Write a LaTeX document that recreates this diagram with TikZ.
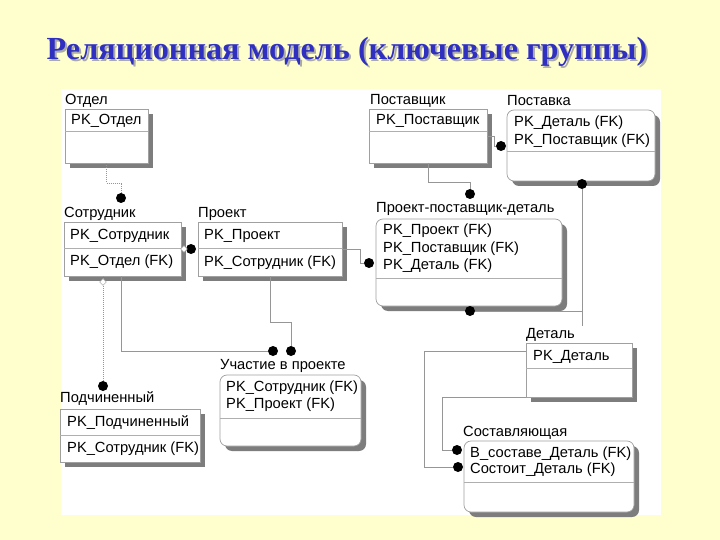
\documentclass[tikz,border=0pt]{standalone}
\usepackage{fontspec}
\setmainfont{Liberation Sans}
\newfontfamily\titlefont{Liberation Serif}
\usetikzlibrary{shadows,shapes.geometric,calc}
\definecolor{bgy}{RGB}{255,255,206}
\definecolor{titc}{RGB}{48,48,192}
\definecolor{tsh}{RGB}{170,170,170}
\definecolor{boxc}{RGB}{160,160,160}
\definecolor{sepc}{RGB}{175,175,175}
\definecolor{shc}{RGB}{125,125,125}
\definecolor{relc}{RGB}{150,150,150}
\newcommand{\ttltext}{Реляционная модель (ключевые группы)}
\begin{document}
\begin{tikzpicture}[x=1pt,y=-1pt,
  ent/.style={draw=boxc, fill=white, line width=0.7pt, inner sep=0pt, outer sep=0pt, anchor=north west,
    drop shadow={shadow xshift=5pt, shadow yshift=-5pt, fill=shc, opacity=1}},
  rent/.style={ent, rounded corners=7pt},
  lbl/.style={font=\fontsize{14.7}{17}\selectfont, anchor=base west, inner sep=0pt},
  sepl/.style={draw=sepc, line width=0.7pt},
  rel/.style={draw=relc, line width=0.8pt},
  dotrel/.style={rel, dash pattern=on 1pt off 1pt},
  blob/.style={circle, fill=black, minimum size=10pt, inner sep=0pt},
  dmd/.style={diamond, draw=relc, fill=white, minimum size=7pt, inner sep=0pt},
  ttl/.style={font=\titlefont\bfseries\fontsize{32.2}{38}\selectfont, anchor=base, inner sep=0pt}
]
\useasboundingbox (0,0) rectangle (720,540);
\fill[bgy] (0,0) rectangle (720,540);
\fill[white] (61,89) rectangle (661,515);

% title with its shadow
\node[ttl] (title) at (347,60) {\rlap{\raisebox{-2pt}{\hspace{2pt}\textcolor{tsh}{\ttltext}}}\textcolor{titc}{\ttltext}};

% entities
\node[ent, minimum width=83pt, minimum height=54pt] (otdel) at (65,109) {};
\draw[sepl] (otdel.west |- 0,131) -- (otdel.east |- 0,131);
\node[lbl] (otdelL) at (65,105) {Отдел};
\node[lbl] (otdelA) at (71,125) {PK\_Отдел};

\node[ent, minimum width=117pt, minimum height=54pt] (sotr) at (64,222) {};
\draw[sepl] (sotr.west |- 0,248) -- (sotr.east |- 0,248);
\node[lbl] (sotrL) at (64,218) {Сотрудник};
\node[lbl] (sotrA) at (70,240) {PK\_Сотрудник};
\node[lbl] (sotrB) at (70,265) {PK\_Отдел (FK)};

\node[ent, minimum width=144pt, minimum height=54pt] (proekt) at (198,222) {};
\draw[sepl] (proekt.west |- 0,248) -- (proekt.east |- 0,248);
\node[lbl] (proektL) at (198,218) {Проект};
\node[lbl] (proektA) at (204,240) {PK\_Проект};
\node[lbl] (proektB) at (204,266) {PK\_Сотрудник (FK)};

\node[ent, minimum width=118pt, minimum height=54pt] (pst) at (369,109) {};
\draw[sepl] (pst.west |- 0,131) -- (pst.east |- 0,131);
\node[lbl] (pstL) at (370,105) {Поставщик};
\node[lbl] (pstA) at (376,125) {PK\_Поставщик};

\node[rent, minimum width=148pt, minimum height=71pt] (postavka) at (507,110) {};
\draw[sepl] (postavka.west |- 0,151) -- (postavka.east |- 0,151);
\node[lbl] (postavkaL) at (507,106) {Поставка};
\node[lbl] (postavkaA) at (514,127) {PK\_Деталь (FK)};
\node[lbl] (postavkaB) at (514,145) {PK\_Поставщик (FK)};

\node[rent, minimum width=186pt, minimum height=87pt] (ppd) at (376,219) {};
\draw[sepl] (ppd.west |- 0,278) -- (ppd.east |- 0,278);
\node[lbl] (ppdL) at (376,213) {Проект-поставщик-деталь};
\node[lbl] (ppdA) at (383,235) {PK\_Проект (FK)};
\node[lbl] (ppdB) at (383,252) {PK\_Поставщик (FK)};
\node[lbl] (ppdC) at (383,269) {PK\_Деталь (FK)};

\node[ent, minimum width=106pt, minimum height=54pt] (detal) at (526,343) {};
\draw[sepl] (detal.west |- 0,368) -- (detal.east |- 0,368);
\node[lbl] (detalL) at (526,338) {Деталь};
\node[lbl] (detalA) at (533,360) {PK\_Деталь};

\node[rent, minimum width=170pt, minimum height=71pt] (sost) at (464,441) {};
\draw[sepl] (sost.west |- 0,482) -- (sost.east |- 0,482);
\node[lbl] (sostL) at (463,436) {Составляющая};
\node[lbl] (sostA) at (470,457) {В\_составе\_Деталь (FK)};
\node[lbl] (sostB) at (470,473) {Состоит\_Деталь (FK)};

\node[rent, minimum width=141pt, minimum height=71pt] (uch) at (220,375) {};
\draw[sepl] (uch.west |- 0,418) -- (uch.east |- 0,418);
\node[lbl] (uchL) at (220,369) {Участие в проекте};
\node[lbl] (uchA) at (226,391) {PK\_Сотрудник (FK)};
\node[lbl] (uchB) at (226,408) {PK\_Проект (FK)};

\node[ent, minimum width=140pt, minimum height=53pt] (podch) at (60,409) {};
\draw[sepl] (podch.west |- 0,435) -- (podch.east |- 0,435);
\node[lbl] (podchL) at (60,402) {Подчиненный};
\node[lbl] (podchA) at (67,426) {PK\_Подчиненный};
\node[lbl] (podchB) at (67,452) {PK\_Сотрудник (FK)};

% dots
\node[blob] (d1) at (121,198) {};
\node[blob] (d2) at (191,249) {};
\node[blob] (d3) at (103,386) {};
\node[blob] (d4) at (273,351) {};
\node[blob] (d5) at (291,351) {};
\node[blob] (d6) at (369,263) {};
\node[blob] (d7) at (501,146) {};
\node[blob] (d8) at (470,194) {};
\node[blob] (d9) at (582,184) {};
\node[blob] (d10) at (470,311) {};
\node[blob] (d11) at (458,467) {};
\node[blob] (d12) at (457,450) {};
\coordinate (dtop) at (582,326);

% connectors
\draw[dotrel] (otdel.south) -- ++(0,20) -| (d1);
\draw[rel] (sotr.east |- d2) -- (d2);
\draw[dotrel] (d3 |- sotr.south) -- (d3);
\draw[rel] (d1 |- sotr.south) |- (d4);
\draw[rel] (proekt.south) -- ++(0,46) -| (d5);
\draw[rel] (proekt.east) -- ++(18,0) |- (d6);
\draw[rel] (pst.east) -- ++(7,0) |- (d7);
\draw[rel] (pst.south) -- ++(0,19) -| (d8);
\draw[rel] (d9) -- (dtop);
\draw[rel] (d10) -| (dtop);
\draw[rel] ([yshift=-8pt]detal.north west) -- ++(-102,0) |- (d11);
\draw[rel] (detal.south west) -- ++(-84,0) |- (d12);

% diamonds
\node[dmd] (dm1) at (184,249) {};
\node[dmd] (dm2) at (103,282) {};
\end{tikzpicture}
\end{document}
